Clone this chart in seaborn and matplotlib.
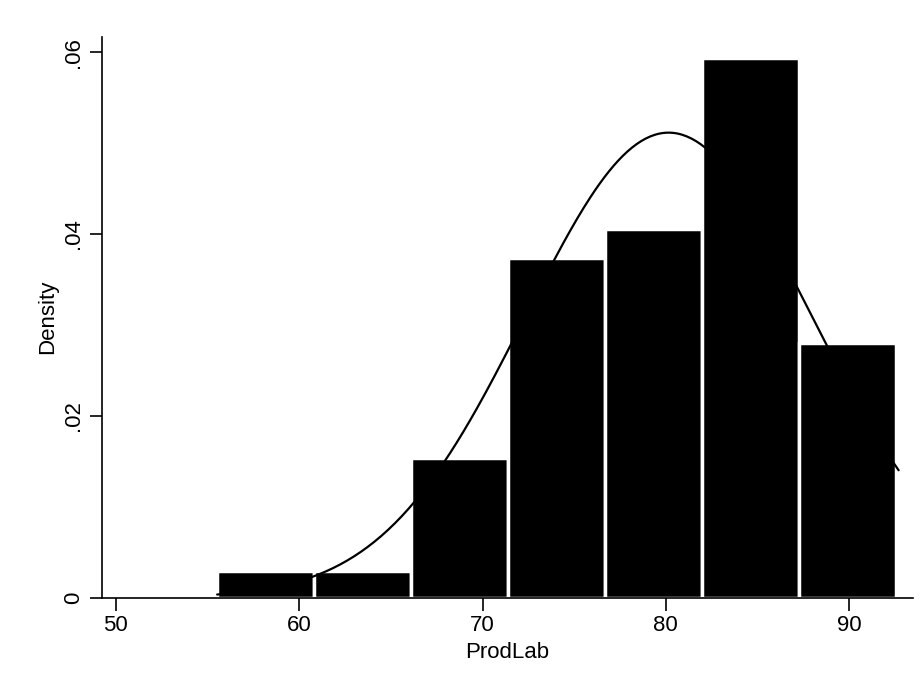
import numpy as np
import pandas as pd
import matplotlib
matplotlib.use("Agg")
import matplotlib.pyplot as plt
import seaborn as sns

# histogram bins (ProdLab) and bar heights (density)
bin_edges = [55.52, 60.81, 66.10, 71.39, 76.68, 81.97, 87.26, 92.55]
densities = [0.0029, 0.0029, 0.0154, 0.0374, 0.0405, 0.0594, 0.0280]
# fitted normal curve: mean, sd, range
norm_mean = 80.15
norm_sd = 7.80
curve_range = [55.52, 92.7]

x_ticks = [50, 60, 70, 80, 90]
y_ticks = [0, 0.02, 0.04, 0.06]
y_ticklabels = ["0", ".02", ".04", ".06"]

sns.set_style("white")
plt.rcParams["font.family"] = ["Liberation Sans", "DejaVu Sans"]
plt.rcParams["text.color"] = "black"
plt.rcParams["axes.labelcolor"] = "black"
plt.rcParams["xtick.color"] = "black"
plt.rcParams["ytick.color"] = "black"

centers = [(a + b) / 2 for a, b in zip(bin_edges[:-1], bin_edges[1:])]
bars = pd.DataFrame({"ProdLab": centers, "density": densities})

xs = np.linspace(curve_range[0], curve_range[1], 300)
curve = pd.DataFrame({
    "ProdLab": xs,
    "density": np.exp(-0.5 * ((xs - norm_mean) / norm_sd) ** 2) / (norm_sd * np.sqrt(2 * np.pi)),
})

fig = plt.figure(figsize=(9.24, 6.82), dpi=100)
ax = fig.add_axes([0.110, 0.1236, 0.8784, 0.8226])

sns.histplot(data=bars, x="ProdLab", weights="density", bins=bin_edges,
             stat="count", color="black", alpha=1, edgecolor="white",
             linewidth=2.5, ax=ax)
sns.lineplot(data=curve, x="ProdLab", y="density", color="black",
             linewidth=1.6, ax=ax)

ax.set_xlim(49.22, 93.5)
ax.set_ylim(0, 0.0617)
ax.set_xticks(x_ticks)
ax.set_yticks(y_ticks)
ax.set_yticklabels(y_ticklabels, rotation=90, va="center")
ax.set_xlabel("ProdLab", fontsize=16, color="black")
ax.set_ylabel("Density", fontsize=16, color="black")
ax.tick_params(axis="both", labelsize=16, length=9, width=1.2, color="black",
               labelcolor="black", direction="out", left=True, bottom=True)
sns.despine(ax=ax)
for s in ["left", "bottom"]:
    ax.spines[s].set_color("black")
    ax.spines[s].set_linewidth(1.2)

fig.savefig("out.png", dpi=100, facecolor="white")
